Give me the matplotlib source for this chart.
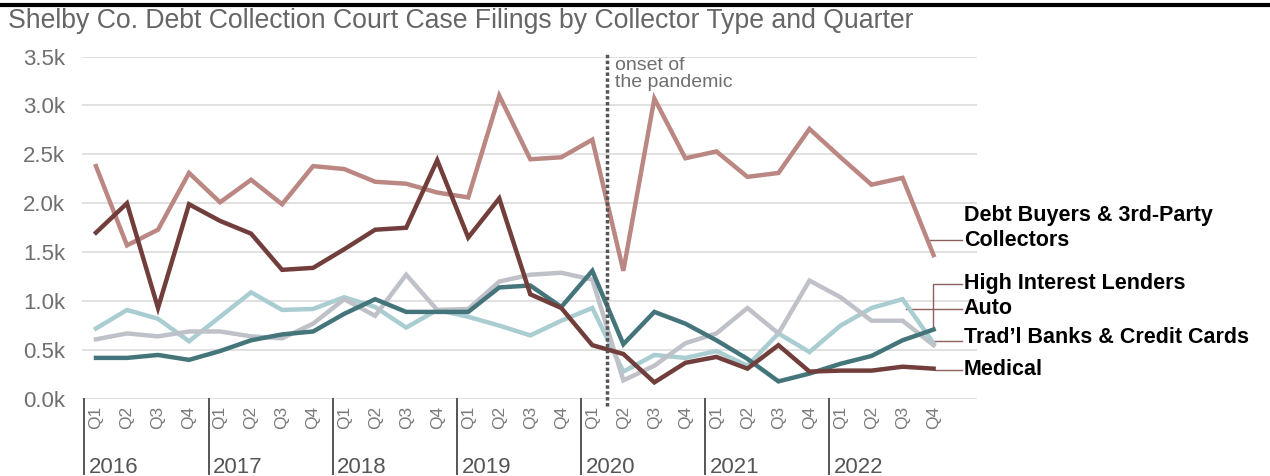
import matplotlib.pyplot as plt
from matplotlib.lines import Line2D

plt.rcParams['font.family'] = ['Liberation Sans', 'DejaVu Sans']

years = ['2016', '2017', '2018', '2019', '2020', '2021', '2022']
quarters = ['Q1', 'Q2', 'Q3', 'Q4']

# filings in thousands, 2016 Q1 .. 2022 Q4
debt_buyers = [2.38, 1.57, 1.73, 2.31, 2.01, 2.24, 1.99, 2.38,
               2.35, 2.22, 2.20, 2.11, 2.06, 3.10, 2.45, 2.47,
               2.65, 1.31, 3.07, 2.46, 2.53, 2.27, 2.31, 2.76,
               2.47, 2.19, 2.26, 1.47]
medical = [1.70, 2.00, 0.93, 1.99, 1.82, 1.69, 1.32, 1.34,
           1.53, 1.73, 1.75, 2.44, 1.65, 2.05, 1.07, 0.93,
           0.55, 0.46, 0.17, 0.37, 0.43, 0.31, 0.55, 0.28,
           0.29, 0.29, 0.33, 0.31]
high_interest = [0.42, 0.42, 0.45, 0.40, 0.49, 0.60, 0.66, 0.69,
                 0.87, 1.02, 0.89, 0.89, 0.89, 1.14, 1.16, 0.94,
                 1.31, 0.56, 0.89, 0.77, 0.60, 0.41, 0.18, 0.26,
                 0.36, 0.44, 0.60, 0.71]
tradl_banks = [0.61, 0.67, 0.64, 0.69, 0.69, 0.64, 0.62, 0.77,
               1.02, 0.85, 1.27, 0.91, 0.92, 1.20, 1.27, 1.29,
               1.22, 0.19, 0.34, 0.57, 0.67, 0.93, 0.67, 1.21,
               1.04, 0.80, 0.80, 0.55]
auto = [0.72, 0.91, 0.82, 0.59, 0.84, 1.09, 0.91, 0.92,
        1.04, 0.94, 0.73, 0.91, 0.84, 0.75, 0.65, 0.80,
        0.93, 0.28, 0.45, 0.42, 0.49, 0.34, 0.67, 0.48,
        0.75, 0.93, 1.02, 0.57]

W, H = 1270, 476
fig = plt.figure(figsize=(W / 100, H / 100), dpi=100)
ax = fig.add_axes([82 / W, 77 / H, 895 / W, 342.5 / H])

x = list(range(len(debt_buyers)))
ax.plot(x, auto, color='#a9cdd1', lw=3.2, solid_joinstyle='miter', zorder=3)
ax.plot(x, tradl_banks, color='#bfc1c8', lw=3.2, solid_joinstyle='miter', zorder=3)
ax.plot(x, high_interest, color='#44757b', lw=3.2, solid_joinstyle='miter', zorder=4)
ax.plot(x, debt_buyers, color='#bb8782', lw=3.2, solid_joinstyle='miter', zorder=4)
ax.plot(x, medical, color='#713e3b', lw=3.2, solid_joinstyle='miter', zorder=5)

ax.set_xlim(-0.45, 28.4)
ax.set_ylim(0, 3.5)
ax.set_yticks([0, 0.5, 1.0, 1.5, 2.0, 2.5, 3.0, 3.5])
ax.set_yticklabels(['%.1fk' % v for v in ax.get_yticks()])
ax.grid(axis='y', color='#dcdcdc', lw=1.2)
ax.set_axisbelow(True)
for s in ax.spines.values():
    s.set_visible(False)
ax.tick_params(axis='y', length=0, pad=12, labelsize=16, labelcolor='#6f6f6f')

ax.set_xticks(x)
ax.set_xticklabels(quarters * len(years), rotation=90, fontsize=12.5, color='#7a7a7a')
ax.tick_params(axis='x', length=0, pad=5)

# year separators and labels
for i, yr in enumerate(years):
    xs = 4 * i - 0.37
    ax.plot([xs, xs], [0, -0.77], color='#555555', lw=1.4, clip_on=False)
    ax.text(xs + 0.15, -0.7, yr, fontsize=16, color='#555555',
            ha='left', va='center', clip_on=False)

# pandemic marker
ax.plot([16.47, 16.47], [-0.07, 3.55], color='#555555', lw=2.5,
        ls=(0, (1, 0.7)), clip_on=False, zorder=6)
ax.text(16.72, 3.5, 'onset of\nthe pandemic', fontsize=14, color='#6f6f6f',
        ha='left', va='top', linespacing=1.05)

# direct labels
lab = dict(fontsize=15.5, fontweight='bold', color='black', ha='left', va='center',
           clip_on=False)
cc = '#8d6060'
lx = 27.97
ax.text(lx, 1.88, 'Debt Buyers & 3rd-Party', **lab)
ax.text(lx, 1.62, 'Collectors', **lab)
ax.plot([26.9, lx - 0.05], [1.62, 1.62], color=cc, lw=1, clip_on=False)
ax.text(lx, 1.18, 'High Interest Lenders', **lab)
ax.plot([26.97, 26.97, lx - 0.05], [0.72, 1.18, 1.18], color=cc, lw=1, clip_on=False)
ax.text(lx, 0.92, 'Auto', **lab)
ax.plot([26.1, lx - 0.05], [0.92, 0.92], color=cc, lw=1, clip_on=False)
ax.text(lx, 0.63, 'Trad\u2019l Banks & Credit Cards', **lab)
ax.plot([26.9, lx - 0.05], [0.59, 0.59], color=cc, lw=1, clip_on=False)
ax.text(lx, 0.30, 'Medical', **lab)
ax.plot([27.06, lx - 0.05], [0.30, 0.30], color=cc, lw=1, clip_on=False)

fig.text(8 / W, 1 - 21 / H, 'Shelby Co. Debt Collection Court Case Filings by Collector Type and Quarter',
         fontsize=19.2, color='#666666', ha='left', va='center')
fig.add_artist(Line2D([0, 1], [1 - 4.5 / H, 1 - 4.5 / H], color='black', lw=3))

fig.savefig('out.png', dpi=100)
